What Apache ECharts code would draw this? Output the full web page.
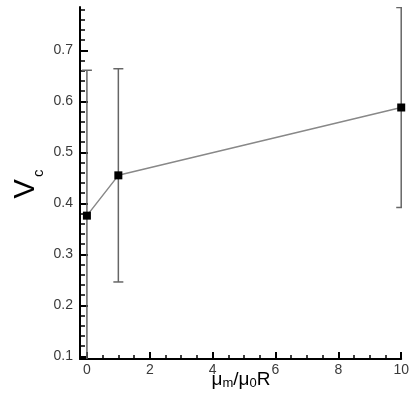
<!DOCTYPE html>
<html>
<head>
<meta charset="utf-8">
<script src="https://cdn.jsdelivr.net/npm/echarts@6/dist/echarts.min.js"></script>
<style>
  html, body { margin: 0; padding: 0; background: #fff; }
  #chart { width: 412px; height: 407px; }
</style>
</head>
<body>
<div id="chart"></div>
<script>
// Critical velocity vs. viscosity ratio, with error bars
const ratio = [0, 1, 10];
const vc = [0.376, 0.455, 0.588];
const vcErr = [0.285, 0.209, 0.196];

// Axis tick positions
const xMajorTicks = [0, 2, 4, 6, 8, 10];
const xMinorTicks = [0.5, 1, 1.5, 2.5, 3, 3.5, 4.5, 5, 5.5, 6.5, 7, 7.5, 8.5, 9, 9.5];
const yMajorTicks = [0.1, 0.2, 0.3, 0.4, 0.5, 0.6, 0.7];
const yMinorTicks = [0.12, 0.14, 0.16, 0.18, 0.22, 0.24, 0.26, 0.28, 0.32, 0.34, 0.36, 0.38,
                     0.42, 0.44, 0.46, 0.48, 0.52, 0.54, 0.56, 0.58, 0.62, 0.64, 0.66, 0.68,
                     0.72, 0.74, 0.76, 0.78];

const FONT = 'Liberation Sans, Arial, sans-serif';

const points = ratio.map((x, i) => [x, vc[i]]);
const bars = ratio.map((x, i) => [x, vc[i] - vcErr[i], vc[i] + vcErr[i]]);

const chart = echarts.init(document.getElementById('chart'), null, { renderer: 'canvas' });

// A labelled axis with major ticks plus an overlaid axis carrying the minor ticks
function axisPair(kind, min, max, major, minor, fmt) {
  const pos = kind === 'x' ? 'bottom' : 'left';
  const base = {
    type: 'value', min: min, max: max, position: pos, offset: 0, splitLine: { show: false }
  };
  return [
    Object.assign({}, base, {
      axisLine: { show: true, onZero: false, lineStyle: { color: '#000', width: 2 } },
      axisTick: { show: true, inside: true, length: kind === 'x' ? 7 : 8, customValues: major,
                  lineStyle: { color: '#000', width: 2 } },
      axisLabel: { show: true, customValues: major, formatter: fmt,
                   color: '#3a3a3a', fontFamily: FONT, fontSize: 14, margin: kind === 'x' ? 4 : 7 }
    }),
    Object.assign({}, base, {
      axisLine: { show: false, onZero: false },
      axisTick: { show: true, inside: true, length: kind === 'x' ? 4 : 5, customValues: minor,
                  lineStyle: { color: '#000', width: 1.5 } },
      axisLabel: { show: false }
    })
  ];
}

const option = {
  animation: false,
  backgroundColor: '#fff',
  grid: { left: 80, right: 8, top: 7, bottom: 48, containLabel: false },
  xAxis: axisPair('x', -0.22, 10, xMajorTicks, xMinorTicks, v => String(Math.round(v))),
  yAxis: axisPair('y', 0.095, 0.785, yMajorTicks, yMinorTicks, v => v.toFixed(1)),
  series: [
    {
      type: 'custom',
      xAxisIndex: 0, yAxisIndex: 0,
      clip: true,
      data: bars,
      z: 2,
      renderItem: function (params, api) {
        const x = api.value(0);
        const lo = api.coord([x, api.value(1)]);
        const hi = api.coord([x, api.value(2)]);
        const cap = 5;
        const st = { stroke: '#666', lineWidth: 1.5 };
        return {
          type: 'group',
          children: [
            { type: 'line', shape: { x1: hi[0], y1: hi[1], x2: lo[0], y2: lo[1] }, style: st },
            { type: 'line', shape: { x1: hi[0] - cap, y1: hi[1], x2: hi[0] + cap, y2: hi[1] }, style: st },
            { type: 'line', shape: { x1: lo[0] - cap, y1: lo[1], x2: lo[0] + cap, y2: lo[1] }, style: st }
          ]
        };
      }
    },
    {
      type: 'line',
      xAxisIndex: 0, yAxisIndex: 0,
      data: points,
      z: 3,
      symbol: 'rect',
      symbolSize: 8,
      itemStyle: { color: '#000' },
      lineStyle: { color: '#888', width: 1.5 }
    }
  ],
  graphic: [
    {
      type: 'text',
      x: 241, y: 380,
      style: {
        text: '{a|μ}{s|m}{a|/μ}{s|0}{a|R}',
        align: 'center', verticalAlign: 'middle',
        rich: {
          a: { fontFamily: FONT, fontSize: 19, fill: '#000', verticalAlign: 'bottom' },
          s: { fontFamily: FONT, fontSize: 13, fill: '#000', verticalAlign: 'bottom', padding: [2, 0, 0, 0] }
        }
      }
    },
    {
      type: 'text',
      x: 26, y: 184,
      rotation: Math.PI / 2,
      style: {
        text: '{v|V}{c|c}',
        align: 'center', verticalAlign: 'middle',
        rich: {
          v: { fontFamily: FONT, fontSize: 29, lineHeight: 30, fill: '#000' },
          c: { fontFamily: FONT, fontSize: 15, lineHeight: 15, padding: [25, 0, 0, 2], fill: '#000' }
        }
      }
    }
  ]
};

chart.setOption(option);
</script>
</body>
</html>
